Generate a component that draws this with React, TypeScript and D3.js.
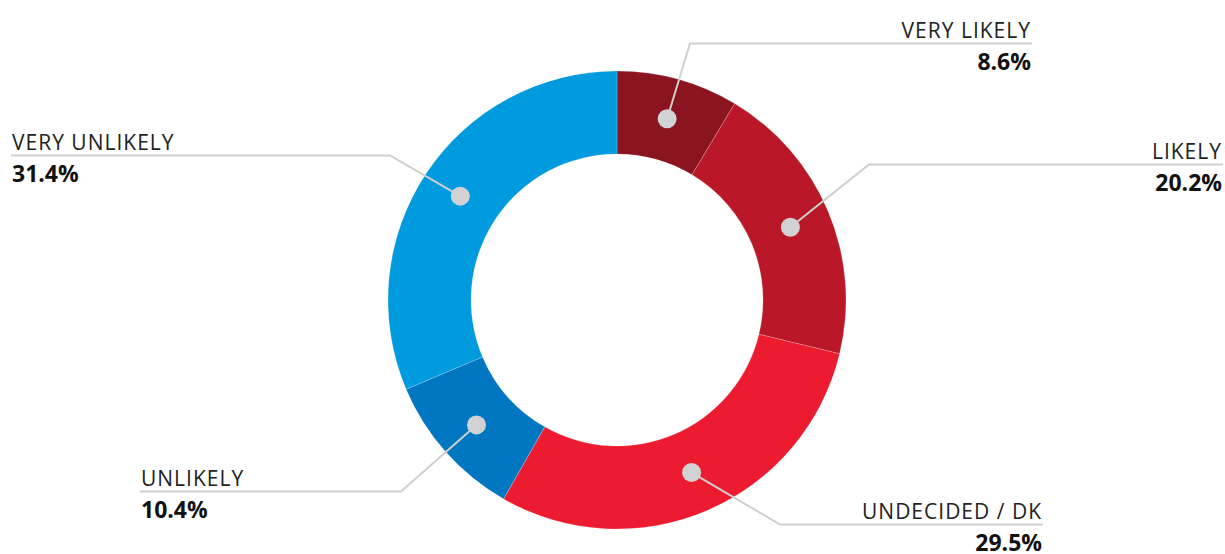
import React from "react";
import * as d3 from "d3";

const categories = ["VERY LIKELY", "LIKELY", "UNDECIDED / DK", "UNLIKELY", "VERY UNLIKELY"];
const values = [8.6, 20.2, 29.5, 10.4, 31.4];
const valueLabels = ["8.6%", "20.2%", "29.5%", "10.4%", "31.4%"];
const colors = ["#8A1420", "#BA1828", "#EC1B2F", "#0077C0", "#009ADE"];

// label layout (positions only)
const labelLayout = [
  { lineY: 43.5, elbowX: 690, anchorX: 1031, side: "right" },
  { lineY: 164.5, elbowX: 869, anchorX: 1222, side: "right" },
  { lineY: 524.5, elbowX: 780, anchorX: 1042, side: "right" },
  { lineY: 491.5, elbowX: 401, anchorX: 141, side: "left" },
  { lineY: 155.5, elbowX: 390, anchorX: 12, side: "left" },
];

const W = 1225;
const H = 554;
const cx = 617;
const cy = 300;
const outerR = 229;
const innerR = 146;
const dotR = 188;

export default function App() {
  const pie = d3.pie<number>().sort(null).value((d) => d)(values);
  const arc = d3.arc<d3.PieArcDatum<number>>().innerRadius(innerR).outerRadius(outerR);
  const dotArc = d3.arc<d3.PieArcDatum<number>>().innerRadius(dotR).outerRadius(dotR);
  const font = "'Open Sans', sans-serif";
  return (
    <svg
      width={W}
      height={H}
      style={{ position: "absolute", left: 0, top: 0, display: "block" }}
    >
      <g transform={`translate(${cx},${cy})`}>
        {pie.map((p, i) => (
          <path key={i} d={arc(p) || ""} fill={colors[i]} stroke="#ffffff" strokeWidth={0.4} strokeOpacity={0.5} />
        ))}
      </g>
      {pie.map((p, i) => {
        const [dx, dy] = dotArc.centroid(p);
        const x = cx + dx;
        const y = cy + dy;
        const L = labelLayout[i];
        const right = L.side === "right";
        const pts = [
          [x, y],
          [L.elbowX, L.lineY],
          [L.anchorX + (right ? 1 : -1), L.lineY],
        ];
        const line = d3.line()(pts as [number, number][]) || "";
        return (
          <g key={i}>
            <path d={line} fill="none" stroke="#CFCFCF" strokeWidth={2} />
            <circle cx={x} cy={y} r={9.5} fill="#D1D2D4" />
            <text
              x={L.anchorX}
              y={L.lineY - 6}
              textAnchor={right ? "end" : "start"}
              fontFamily={font}
              fontSize={21}
              letterSpacing={1}
              fill="#222"
            >
              {categories[i]}
            </text>
            <text
              x={L.anchorX}
              y={L.lineY + 26.5}
              textAnchor={right ? "end" : "start"}
              fontFamily={font}
              fontSize={23}
              fontWeight={700}
              fill="#111"
            >
              {valueLabels[i]}
            </text>
          </g>
        );
      })}
    </svg>
  );
}
